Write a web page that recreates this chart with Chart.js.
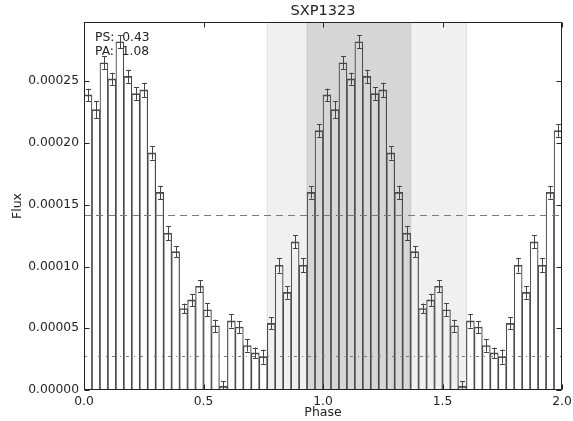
<!DOCTYPE html>
<html><head><meta charset="utf-8">
<script src="https://cdn.jsdelivr.net/npm/chart.js@4.4.1/dist/chart.umd.min.js"></script>
<style>html,body{margin:0;padding:0;background:#fff}#wrap{width:573px;height:421px}</style>
</head><body><div id="wrap"><canvas id="c" width="573" height="421"></canvas></div>
<script>
const chartTitle = 'SXP1323';
const xAxisLabel = 'Phase';
const yAxisLabel = 'Flux';
const xTickValues = [0, 0.5, 1.0, 1.5, 2.0];
const yTickValues = [0, 0.00005, 0.00010, 0.00015, 0.00020, 0.00025];
const binsPerCycle = 30;
const flux = [
  0.000239, 0.000227, 0.000265, 0.000252, 0.000282, 0.000254, 0.000240, 0.000243, 0.000192, 0.000160,
  0.000127, 0.000112, 0.000066, 0.000073, 0.000084, 0.000065, 0.000052, 0.000003, 0.000056, 0.000051,
  0.000036, 0.000030, 0.000027, 0.000054, 0.000101, 0.000079, 0.000120, 0.000101, 0.000160, 0.000210,
  0.000239, 0.000227, 0.000265, 0.000252, 0.000282, 0.000254, 0.000240, 0.000243, 0.000192, 0.000160,
  0.000127, 0.000112, 0.000066, 0.000073, 0.000084, 0.000065, 0.000052, 0.000003, 0.000056, 0.000051,
  0.000036, 0.000030, 0.000027, 0.000054, 0.000101, 0.000079, 0.000120, 0.000101, 0.000160, 0.000210
];
const fluxErr = [
  0.0000050, 0.0000070, 0.0000054, 0.0000049, 0.0000054, 0.0000053, 0.0000051, 0.0000058, 0.0000054, 0.0000054,
  0.0000059, 0.0000046, 0.0000040, 0.0000049, 0.0000049, 0.0000051, 0.0000050, 0.0000040, 0.0000054, 0.0000050,
  0.0000049, 0.0000044, 0.0000057, 0.0000049, 0.0000060, 0.0000051, 0.0000054, 0.0000057, 0.0000050, 0.0000050,
  0.0000050, 0.0000070, 0.0000054, 0.0000049, 0.0000054, 0.0000053, 0.0000051, 0.0000058, 0.0000054, 0.0000054,
  0.0000059, 0.0000046, 0.0000040, 0.0000049, 0.0000049, 0.0000051, 0.0000050, 0.0000040, 0.0000054, 0.0000050,
  0.0000049, 0.0000044, 0.0000057, 0.0000049, 0.0000060, 0.0000051, 0.0000054, 0.0000057, 0.0000050, 0.0000050
];
const meanFlux = 0.0001416;
const minFlux = 0.0000277;
const onPulseSpan = [0.7667, 1.6];
const peakSpan = [0.9333, 1.3667];
const annotationLines = ['PS:  0.43', 'PA:  1.08'];

const FONT = "'DejaVu Sans', sans-serif";
const TXT = '#222';
const points = flux.map((v, i) => ({ x: (i + 0.5) / binsPerCycle, y: v }));

const decor = {
  id: 'decor',
  beforeDatasetsDraw(chart) {
    const { ctx, chartArea: a, scales: { x } } = chart;
    ctx.save();
    const span = (r, fill, edge) => {
      const x0 = x.getPixelForValue(r[0]), x1 = x.getPixelForValue(r[1]);
      ctx.fillStyle = fill;
      ctx.fillRect(x0, a.top, x1 - x0, a.bottom - a.top);
      ctx.strokeStyle = edge; ctx.lineWidth = 1;
      ctx.beginPath();
      ctx.moveTo(x0, a.top); ctx.lineTo(x0, a.bottom);
      ctx.moveTo(x1, a.top); ctx.lineTo(x1, a.bottom);
      ctx.stroke();
    };
    span(onPulseSpan, '#f0f0f0', '#dedede');
    span(peakSpan, '#d6d6d6', '#c8c8c8');
    ctx.restore();
  },
  afterDatasetsDraw(chart) {
    const { ctx, chartArea: a, scales: { x, y } } = chart;
    ctx.save();
    ctx.beginPath(); ctx.rect(a.left, a.top, a.right - a.left, a.bottom - a.top); ctx.clip();
    ctx.strokeStyle = '#7a7a7a'; ctx.lineWidth = 1;
    const hline = (v, dash) => {
      const py = Math.round(y.getPixelForValue(v)) + 0.5;
      ctx.setLineDash(dash);
      ctx.beginPath(); ctx.moveTo(a.left, py); ctx.lineTo(a.right, py); ctx.stroke();
    };
    hline(meanFlux, [7, 5]);
    hline(minFlux, [3, 5, 1, 5]);
    ctx.setLineDash([]);
    ctx.strokeStyle = '#444'; ctx.lineWidth = 1;
    points.forEach((p, i) => {
      const px = Math.round(x.getPixelForValue(p.x)) + 0.5;
      const yt = y.getPixelForValue(p.y + fluxErr[i]);
      const yb = y.getPixelForValue(p.y - fluxErr[i]);
      ctx.beginPath();
      ctx.moveTo(px, yt); ctx.lineTo(px, yb);
      ctx.moveTo(px - 2.5, Math.round(yt) + 0.5); ctx.lineTo(px + 2.5, Math.round(yt) + 0.5);
      ctx.moveTo(px - 2.5, Math.round(yb) + 0.5); ctx.lineTo(px + 2.5, Math.round(yb) + 0.5);
      ctx.stroke();
    });
    ctx.restore();
  },
  afterDraw(chart) {
    const { ctx, chartArea: a, scales: { x, y } } = chart;
    ctx.save();
    ctx.strokeStyle = '#222'; ctx.lineWidth = 1;
    const L = Math.round(a.left) + 0.5, R = Math.round(a.right) - 0.5;
    const T = Math.round(a.top) + 0.5, B = Math.round(a.bottom) - 0.5;
    ctx.strokeRect(L, T, R - L, B - T);
    ctx.beginPath();
    xTickValues.forEach(v => {
      const px = Math.round(x.getPixelForValue(v)) + 0.5;
      ctx.moveTo(px, B); ctx.lineTo(px, B - 5);
      ctx.moveTo(px, T); ctx.lineTo(px, T + 5);
    });
    yTickValues.forEach(v => {
      const py = Math.round(y.getPixelForValue(v)) + 0.5;
      ctx.moveTo(L, py); ctx.lineTo(L + 5, py);
      ctx.moveTo(R, py); ctx.lineTo(R - 5, py);
    });
    ctx.stroke();
    ctx.fillStyle = TXT;
    ctx.font = '12.3px ' + FONT;
    ctx.textBaseline = 'middle';
    ctx.textAlign = 'left';
    annotationLines.forEach((t, i) => ctx.fillText(t, a.left + 11, a.top + 16 + i * 14));
    ctx.restore();
  }
};

new Chart(document.getElementById('c'), {
  type: 'bar',
  data: {
    datasets: [{
      data: points,
      backgroundColor: 'rgba(0,0,0,0)',
      borderColor: '#4a4a4a',
      borderWidth: { top: 1, left: 0.5, right: 0.5, bottom: 0 },
      borderSkipped: 'bottom',
      barPercentage: 1,
      categoryPercentage: 1
    }]
  },
  options: {
    responsive: false,
    devicePixelRatio: 1,
    animation: false,
    layout: { padding: { left: 0, right: 11, top: 0, bottom: 0 } },
    plugins: {
      legend: { display: false },
      tooltip: { enabled: false },
      title: {
        display: true, text: chartTitle, color: TXT, fullSize: false,
        font: { family: FONT, size: 14.6, weight: 'normal', lineHeight: 1.2 },
        padding: { top: 2, bottom: 2.48 }
      }
    },
    scales: {
      x: {
        type: 'linear', min: 0, max: 2, offset: false,
        grid: { display: false, drawTicks: false, offset: false },
        border: { display: false },
        afterBuildTicks: s => { s.ticks = xTickValues.map(v => ({ value: v })); },
        afterFit: s => { s.height = 31; s.paddingLeft = 0; s.paddingRight = 0; },
        ticks: {
          padding: 4, color: TXT, maxRotation: 0, autoSkip: false,
          font: { family: FONT, size: 12.3 },
          callback: v => Number(v).toFixed(1)
        },
        title: { display: true, text: xAxisLabel, color: TXT, font: { family: FONT, size: 12.5 }, padding: { top: 0, bottom: 1 } }
      },
      y: {
        type: 'linear', min: 0, max: 0.000298,
        grid: { display: false, drawTicks: false },
        border: { display: false },
        afterBuildTicks: s => { s.ticks = yTickValues.map(v => ({ value: v })); },
        afterFit: s => { s.width = 84; s.paddingTop = 0; s.paddingBottom = 0; },
        ticks: {
          padding: 5, color: TXT, autoSkip: false,
          font: { family: FONT, size: 12.3 },
          callback: v => Number(v).toFixed(5)
        },
        title: { display: true, text: yAxisLabel, color: TXT, font: { family: FONT, size: 12.5 }, padding: { top: 10, bottom: 0 } }
      }
    }
  },
  plugins: [decor]
});
</script>
</body></html>
